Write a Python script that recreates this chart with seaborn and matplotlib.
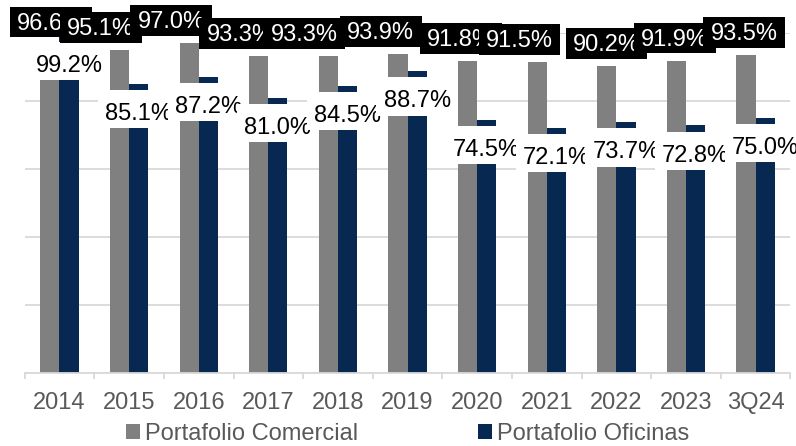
import pandas as pd
import numpy as np
import matplotlib.pyplot as plt
import seaborn as sns
from matplotlib.path import Path

# Occupancy by year
periods = ["2014", "2015", "2016", "2017", "2018", "2019",
           "2020", "2021", "2022", "2023", "3Q24"]
comercial = [96.6, 95.1, 97.0, 93.3, 93.3, 93.9, 91.8, 91.5, 90.2, 91.9, 93.5]
oficinas = [99.2, 85.1, 87.2, 81.0, 84.5, 88.7, 74.5, 72.1, 73.7, 72.8, 75.0]
series_names = ["Portafolio Comercial", "Portafolio Oficinas"]

# horizontal nudge of the black labels (category units), as placed in the original
label_nudge = [0.01, -0.27, -0.26, -0.27, -0.35, -0.25, -0.10, -0.26, -0.01, -0.03, -0.03]


def padded_box(left, right, top, bottom):
    # label box with different padding on each side (in font-size units)
    def style(x0, y0, width, height, mutation_size):
        l, r, t, b = (v * mutation_size for v in (left, right, top, bottom))
        return Path([(x0 - l, y0 - b), (x0 + width + r, y0 - b),
                     (x0 + width + r, y0 + height + t), (x0 - l, y0 + height + t),
                     (x0 - l, y0 - b)], closed=True)
    return style


df = pd.DataFrame({
    "Periodo": periods * 2,
    "Serie": [series_names[0]] * len(periods) + [series_names[1]] * len(periods),
    "Valor": comercial + oficinas,
})

sns.set_theme(style="white")
plt.rcParams["font.family"] = ["Liberation Sans", "DejaVu Sans"]

fig, ax = plt.subplots(figsize=(7.96, 4.46), dpi=100)
fig.subplots_adjust(left=0.031, right=0.993, bottom=0.1637, top=0.926)

pal = {series_names[0]: "#808080", series_names[1]: "#072850"}
sns.barplot(data=df, x="Periodo", y="Valor", hue="Serie", palette=pal,
            width=0.55, gap=0, saturation=1, errorbar=None, linewidth=0,
            ax=ax, zorder=2)

ax.set_ylim(0, 100)
ax.set_xlim(-0.5, len(periods) - 0.5)
ax.set_yticks([0, 20, 40, 60, 80, 100])
ax.yaxis.grid(True, color="#d9d9d9", lw=1.3)
ax.set_axisbelow(True)
ax.tick_params(axis="y", length=0, labelleft=False)
for s in ["left", "right", "top"]:
    ax.spines[s].set_visible(False)
ax.spines["bottom"].set_color("#d9d9d9")
ax.spines["bottom"].set_linewidth(1.3)

ax.set_xticks(range(len(periods)))
ax.set_xticks(np.arange(-0.5, len(periods), 1), minor=True)
ax.tick_params(axis="x", which="major", length=0, labelsize=17,
               labelcolor="#595959", pad=14)
ax.tick_params(axis="x", which="minor", length=4.5, width=1.3,
               color="#d9d9d9", direction="out", bottom=True)
ax.set_xlabel("")
ax.set_ylabel("")

# data labels
black_box = dict(boxstyle=padded_box(0.3, 0.33, 0.25, 0.12), fc="black", ec="none")
white_box = dict(boxstyle=padded_box(0.3, 0.3, 0.55, 0.13), fc="white", ec="none")
for i in range(len(periods)):
    pg = ax.containers[0][i]
    pn = ax.containers[1][i]
    xg = pg.get_x() + pg.get_width() / 2
    xn = pn.get_x() + pn.get_width() / 2
    ax.text(xg + label_nudge[i], comercial[i] + 4.4, f"{comercial[i]:.1f}%",
            ha="center", va="baseline", color="white", fontsize=17, zorder=5,
            bbox=black_box)
    ax.text(xn, oficinas[i] - 10.6, f"{oficinas[i]:.1f}%",
            ha="center", va="baseline", color="black", fontsize=17, zorder=5,
            bbox=white_box)

handles, labels = ax.get_legend_handles_labels()
ax.legend(handles, labels, loc="center", bbox_to_anchor=(0.5, -0.179), ncol=2,
          frameon=False, fontsize=17, handlelength=0.6, handleheight=0.6,
          handletextpad=0.2, columnspacing=5.1, labelcolor="#595959")

plt.savefig("out.png", dpi=100)
